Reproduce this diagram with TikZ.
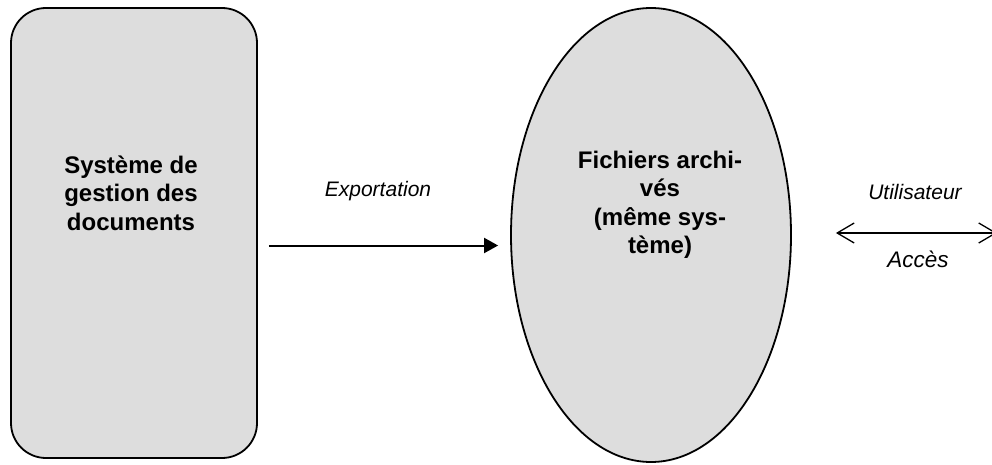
\documentclass[tikz,border=0pt]{standalone}
\usepackage{fontspec}
\setmainfont{Liberation Sans}
\usetikzlibrary{shapes.geometric,arrows.meta}
\definecolor{grisFond}{RGB}{221,221,221}

\begin{document}
\begin{tikzpicture}[x=1pt,y=1pt,
                    boiteND/.style={rectangle,
                                    rounded corners=35pt,
                                    draw=black,
                                    line width=1.8pt,
                                    fill=grisFond,
                                    minimum width=246pt,
                                    minimum height=450pt,
                                    inner sep=0pt},
                    ellND/.style={ellipse,
                                  draw=black,
                                  line width=1.8pt,
                                  fill=grisFond,
                                  minimum width=280pt,
                                  minimum height=454pt,
                                  inner sep=0pt},
                    titreND/.style={align=center,
                                    inner sep=0pt,
                                    font=\fontsize{24}{28.5}\selectfont\bfseries},
                    etiqND/.style={inner sep=0pt,
                                   font=\fontsize{21}{25}\selectfont\itshape},
                    flecheND/.style={-{Triangle[length=14pt,width=15pt]},
                                     line width=2pt},
                    accesND/.style={{Straight Barb[length=17pt,width=20pt]}-{Straight Barb[length=17pt,width=20pt]},
                                    line width=1.3pt}]
    \useasboundingbox (0,0) rectangle (992,464);
    \node[boiteND](SGD) at (134,231) {};
    \node[titreND](SGDtxt) at (131,271) {Système de\\gestion des\\documents};
    \node[ellND](FA) at (651,229) {};
    \node[titreND](FAtxt) at (660,259) {Fichiers archi-\\vés\\(même sys-\\tème)};
    \coordinate (UT) at (997,231);
    \node[etiqND](EXP) at (378,273) {Exportation};
    \node[etiqND](UTI) at (915,272) {Utilisateur};
    \node[etiqND, font=\fontsize{22.5}{26}\selectfont\itshape](ACC) at (918,205) {Accès};
    \draw[flecheND] ([shift={(11,-12.5)}]SGD.east) -- ([shift={(-12,-10.5)}]FA.west);
    \draw[accesND] ([shift={(44,2)}]FA.east) -- (UT);
\end{tikzpicture}
\end{document}
